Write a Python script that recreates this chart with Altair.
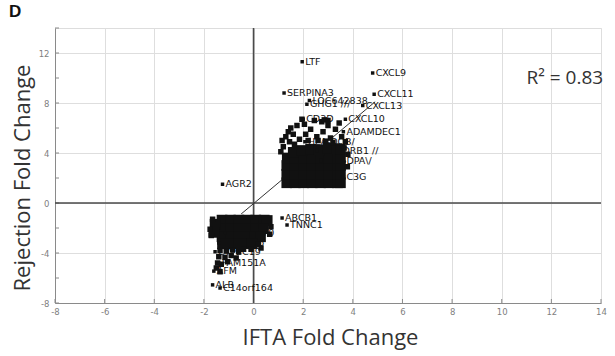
import altair as alt
import pandas as pd

# ---- labelled genes (IFTA fold change, rejection fold change) ----
gene_names = ["LTF", "CXCL9", "CXCL11", "SERPINA3", "LOC642838", "GHG1 ///", "CXCL13",
              "CD3D", "CXCL10", "ADAMDEC1", "HLA-DQB/", "HLA-DRB1 //", "HLA-DPA\\/", "C3G",
              "AGR2", "ABCB1", "TNNC1", "TMEM170", "SLC22A6", "CYP2C19", "FAM151A", "AFM",
              "ALB", "C14orf164"]
gene_x = [1.96, 4.80, 4.86, 1.23, 2.25, 2.15, 4.40,
          2.00, 3.70, 3.62, 2.07, 2.56, 2.72, 3.62,
          -1.25, 1.15, 1.35, -1.15, -1.40, -1.55, -1.40, -1.60,
          -1.65, -1.35]
gene_y = [11.3, 10.4, 8.7, 8.8, 8.2, 7.9, 7.8,
          6.7, 6.7, 5.7, 4.9, 4.2, 3.4, 2.1,
          1.5, -1.2, -1.76, -2.4, -3.2, -3.9, -4.8, -5.45,
          -6.55, -6.8]

# ---- dense upper cluster (concordantly up-regulated genes) ----
up_x = [1.34, 1.68, 2.02, 2.36, 2.70, 3.04, 3.38, 3.50,
        1.34, 1.68, 2.02, 2.36, 2.70, 3.04, 3.38, 3.50,
        1.34, 1.68, 2.02, 2.36, 2.70, 3.04, 3.38, 3.50,
        1.36, 1.68, 2.02, 2.36, 2.70, 3.04, 3.38, 3.50,
        1.60, 1.95, 2.30, 2.65, 3.00, 3.35, 3.50]
up_y = [1.62, 1.62, 1.62, 1.62, 1.62, 1.62, 1.62, 1.62,
        2.30, 2.30, 2.30, 2.30, 2.30, 2.30, 2.30, 2.30,
        3.00, 3.00, 3.00, 3.00, 3.00, 3.00, 3.00, 3.00,
        3.60, 3.60, 3.60, 3.60, 3.60, 3.60, 3.60, 3.60,
        4.05, 4.20, 4.30, 4.25, 4.40, 4.35, 4.30]

# ---- sparse fringe points around the upper cluster ----
upf_x = [1.20, 1.45, 1.30, 1.60, 1.85, 1.50, 2.10, 2.30, 2.05, 2.55, 2.80, 2.45, 3.10, 3.30,
         3.00, 3.55, 3.70, 3.45, 2.75, 2.20, 1.75, 1.40, 1.15, 3.65, 3.80, 3.78, 1.10, 2.90,
         3.20, 2.60, 1.95, 1.65, 2.85, 3.00]
upf_y = [4.50, 4.90, 5.30, 5.50, 5.10, 6.00, 5.50, 5.90, 6.30, 5.30, 5.70, 6.60, 5.20, 5.90,
         6.20, 5.30, 4.90, 6.40, 6.50, 5.00, 6.20, 5.70, 5.00, 4.40, 3.90, 2.90, 4.10, 4.95,
         4.85, 5.00, 6.70, 4.70, 6.65, 6.60]

# ---- dense lower cluster (concordantly down-regulated genes) ----
low_x = [-1.27, -0.93, -0.59, -0.25, 0.09, 0.43, 0.55,
         -1.27, -0.93, -0.59, -0.25, 0.09, 0.40,
         -1.27, -0.93, -0.59, -0.25, 0.05, 0.28,
         -1.25, -0.92, -0.58, -0.28, -0.05,
         -1.55, -1.60]
low_y = [-1.37, -1.37, -1.37, -1.37, -1.37, -1.37, -1.40,
         -2.05, -2.05, -2.05, -2.05, -2.05, -2.05,
         -2.70, -2.70, -2.70, -2.70, -2.70, -2.70,
         -3.25, -3.25, -3.25, -3.25, -3.25,
         -1.70, -2.35]

# ---- sparse tail of the lower cluster ----
lowf_x = [-1.35, -1.10, -0.85, -0.60, -0.40, -1.40, -1.15, -0.90, -0.70, -1.45, -1.30, -1.05,
          -1.50, -1.35, -1.70, -1.75, -1.65, 0.70, 0.65, 0.30, 0.20, -0.10]
lowf_y = [-3.80, -3.85, -3.75, -3.90, -3.70, -4.30, -4.35, -4.20, -4.40, -4.80, -4.90, -4.70,
          -5.20, -5.50, -2.60, -2.10, -1.30, -1.90, -2.50, -3.60, -3.30, -3.70]

# ---- regression line ----
fit_x = [-0.50, 4.90]
fit_y = [-0.88, 8.10]

tick_vals = [-8, -6, -4, -2, 0, 2, 4, 6, 8, 10, 12, 14]
r2_text = ["R\u00b2 = 0.83"]
r2_x = [11.0]
r2_y = [10.0]

W, H = 546, 275
FONT_T = "Open Sans"
FONT_L = "DejaVu Sans"

xs = alt.Scale(domain=[-8, 14], nice=False)
ys = alt.Scale(domain=[-8, 14], nice=False)

x_axis = alt.Axis(values=tick_vals, title="IFTA Fold Change", grid=True, ticks=False,
                  gridColor="#dedede", domainColor="#8a8a8a", labelColor="#808080",
                  labelFont=FONT_L, labelFontSize=8.5, labelPadding=4,
                  labelExpr="'' + datum.value",
                  titleFont=FONT_T, titleFontSize=22, titleFontWeight="normal",
                  titleColor="#333333", titleX=W / 2 + 2, titleY=34, titleBaseline="middle",
                  labelFlush=False)
y_axis = alt.Axis(values=tick_vals, title="Rejection Fold Change", grid=True, ticks=False,
                  gridColor="#dedede", domainColor="#8a8a8a", labelColor="#808080",
                  labelFont=FONT_L, labelFontSize=8.5, labelPadding=6,
                  labelExpr="'' + datum.value",
                  titleFont=FONT_T, titleFontSize=22, titleFontWeight="normal",
                  titleColor="#333333", titleX=-33, titleY=H / 2 + 12, titleAngle=-90,
                  titleBaseline="middle", titleAlign="center", labelFlush=False)

base_df = pd.DataFrame({"x": [0], "y": [0]})
axes_layer = alt.Chart(base_df).mark_point(opacity=0).encode(
    x=alt.X("x:Q", scale=xs, axis=x_axis),
    y=alt.Y("y:Q", scale=ys, axis=y_axis),
)

ticks_df = pd.DataFrame({"v": tick_vals})
xticks = alt.Chart(ticks_df).mark_rule(color="#8a8a8a", strokeWidth=1).encode(
    x=alt.X("v:Q", scale=xs), y=alt.value(H), y2=alt.value(H - 4))
yticks = alt.Chart(ticks_df).mark_rule(color="#8a8a8a", strokeWidth=1).encode(
    y=alt.Y("v:Q", scale=ys), x=alt.value(0), x2=alt.value(4))

zero_df = pd.DataFrame({"z": [0]})
zero_v = alt.Chart(zero_df).mark_rule(color="#4a4a4a", strokeWidth=1.6).encode(
    x=alt.X("z:Q", scale=xs))
zero_h = alt.Chart(zero_df).mark_rule(color="#4a4a4a", strokeWidth=1.6).encode(
    y=alt.Y("z:Q", scale=ys))

fit_df = pd.DataFrame({"x": fit_x, "y": fit_y})
fit = alt.Chart(fit_df).mark_line(color="#333333", strokeWidth=1).encode(
    x=alt.X("x:Q", scale=xs), y=alt.Y("y:Q", scale=ys))

def pts(xv, yv, size):
    df = pd.DataFrame({"x": xv, "y": yv})
    return alt.Chart(df).mark_point(shape="square", filled=True, color="#111111",
                                    size=size, opacity=1).encode(
        x=alt.X("x:Q", scale=xs), y=alt.Y("y:Q", scale=ys))

dense_up = pts(up_x, up_y, 115)
dense_low = pts(low_x, low_y, 115)
fringe_up = pts(upf_x, upf_y, 30)
fringe_low = pts(lowf_x, lowf_y, 30)

gdf = pd.DataFrame({"name": gene_names, "x": gene_x, "y": gene_y})
gdots = pts(gene_x, gene_y, 12)
glabels = alt.Chart(gdf).mark_text(align="left", baseline="middle", dx=3, font=FONT_L,
                                   fontSize=9.5, color="#111111").encode(
    x=alt.X("x:Q", scale=xs), y=alt.Y("y:Q", scale=ys), text="name:N")

r2_df = pd.DataFrame({"t": r2_text, "x": r2_x, "y": r2_y})
r2 = alt.Chart(r2_df).mark_text(align="left", baseline="middle", font=FONT_T,
                                fontSize=19, color="#333333").encode(
    x=alt.X("x:Q", scale=xs), y=alt.Y("y:Q", scale=ys), text="t:N")

chart = alt.layer(
    axes_layer, xticks, yticks, zero_v, zero_h, fit,
    dense_up, dense_low, fringe_up, fringe_low, gdots, glabels, r2
).properties(
    width=W, height=H,
    title=alt.TitleParams("D", anchor="start", frame="bounds", dx=-2, offset=6,
                          fontSize=17, fontWeight="bold", font="Liberation Sans",
                          color="#111111"),
    autosize=alt.AutoSizeParams(type="none"),
    padding={"left": 55, "top": 28, "right": 14, "bottom": 53},
).configure_view(stroke=None).configure(background="white")

chart.save("out.html", embed_options={"renderer": "svg", "actions": False})
